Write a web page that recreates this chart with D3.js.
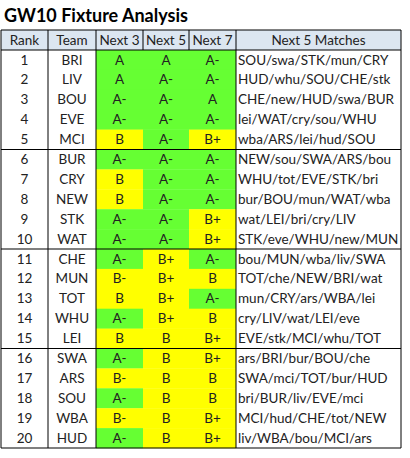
<!DOCTYPE html>
<html><head><meta charset="utf-8">
<script src="https://cdn.jsdelivr.net/npm/d3@7"></script>
<style>body{margin:0;background:#fff}text{font-family:Lato,"Open Sans",sans-serif}</style>
</head><body><svg id="c" width="410" height="458"></svg>
<script>
const teams = ["BRI","LIV","BOU","EVE","MCI","BUR","CRY","NEW","STK","WAT","CHE","MUN","TOT","WHU","LEI","SWA","ARS","SOU","WBA","HUD"];
const next3 = ["A","A","A-","A-","B","A-","B","B","A-","A-","A-","B-","B","A-","B","A-","B-","A-","B-","A-"];
const next5 = ["A","A-","A-","A-","A-","A-","A-","A-","A-","A-","B+","B+","B+","B+","B","B","B","B","B","B"];
const next7 = ["A-","A-","A","A-","B+","A-","A-","A-","B+","B+","A-","B","A-","B","B+","B+","B","B","B+","B+"];
const matches = ["SOU/swa/STK/mun/CRY","HUD/whu/SOU/CHE/stk","CHE/new/HUD/swa/BUR","lei/WAT/cry/sou/WHU","wba/ARS/lei/hud/SOU",
  "NEW/sou/SWA/ARS/bou","WHU/tot/EVE/STK/bri","bur/BOU/mun/WAT/wba","wat/LEI/bri/cry/LIV","STK/eve/WHU/new/MUN",
  "bou/MUN/wba/liv/SWA","TOT/che/NEW/BRI/wat","mun/CRY/ars/WBA/lei","cry/LIV/wat/LEI/eve","EVE/stk/MCI/whu/TOT",
  "ars/BRI/bur/BOU/che","SWA/mci/TOT/bur/HUD","bri/BUR/liv/EVE/mci","MCI/hud/CHE/tot/NEW","liv/WBA/bou/MCI/ars"];
const headers = ["Rank","Team","Next 3","Next 5","Next 7","Next 5 Matches"];
const colEdges = [1,48,96,143,189,236,401];

const svg = d3.select("#c");
const tableTop = 30, headH = 20, rowH = 19.9;
const y = d3.scaleLinear().domain([0,20]).range([tableTop+headH, tableTop+headH+20*rowH]);
const gradeColor = g => g[0]==="A" ? "#66ff33" : "#ffff00";

svg.append("text").attr("x",4).attr("y",22).attr("font-size",18).attr("font-weight","bold").text("GW10 Fixture Analysis");
svg.append("rect").attr("x",1).attr("y",tableTop).attr("width",400).attr("height",headH).attr("fill","#dce6f1");

const grades = [next3,next5,next7];
grades.forEach((arr,ci)=>{
  svg.selectAll(null).data(arr).enter().append("rect")
    .attr("x",colEdges[2+ci]).attr("y",(d,i)=>y(i)).attr("width",colEdges[3+ci]-colEdges[2+ci]).attr("height",rowH+0.3)
    .attr("fill",gradeColor);
});

headers.forEach((h,ci)=>{
  svg.append("text").attr("x",(colEdges[ci]+colEdges[ci+1])/2).attr("y",tableTop+15).attr("text-anchor","middle")
    .attr("font-size",13.5).attr("fill","#222").text(h);
});

const rows = teams.map((t,i)=>[String(i+1),t,next3[i],next5[i],next7[i],matches[i]]);
rows.forEach((r,i)=>{
  r.forEach((v,ci)=>{
    const left = ci===5;
    svg.append("text").attr("x", left ? colEdges[5]+2 : (colEdges[ci]+colEdges[ci+1])/2)
      .attr("y",y(i)+14.5).attr("text-anchor",left?"start":"middle")
      .attr("font-size",13.5).attr("fill","#222").text(v);
  });
});

const line = (x1,y1,x2,y2,w=1)=>svg.append("line").attr("x1",x1).attr("y1",y1).attr("x2",x2).attr("y2",y2).attr("stroke","#000").attr("stroke-width",w);
[1,48,96,236,401].forEach(x=>line(x,tableTop,x,y(20)));
[143,189].forEach(x=>line(x,tableTop,x,tableTop+headH));
[0,5,10,15,20].forEach(k=>line(1,y(k),401,y(k),1.2));
line(1,tableTop,401,tableTop);
</script></body></html>
